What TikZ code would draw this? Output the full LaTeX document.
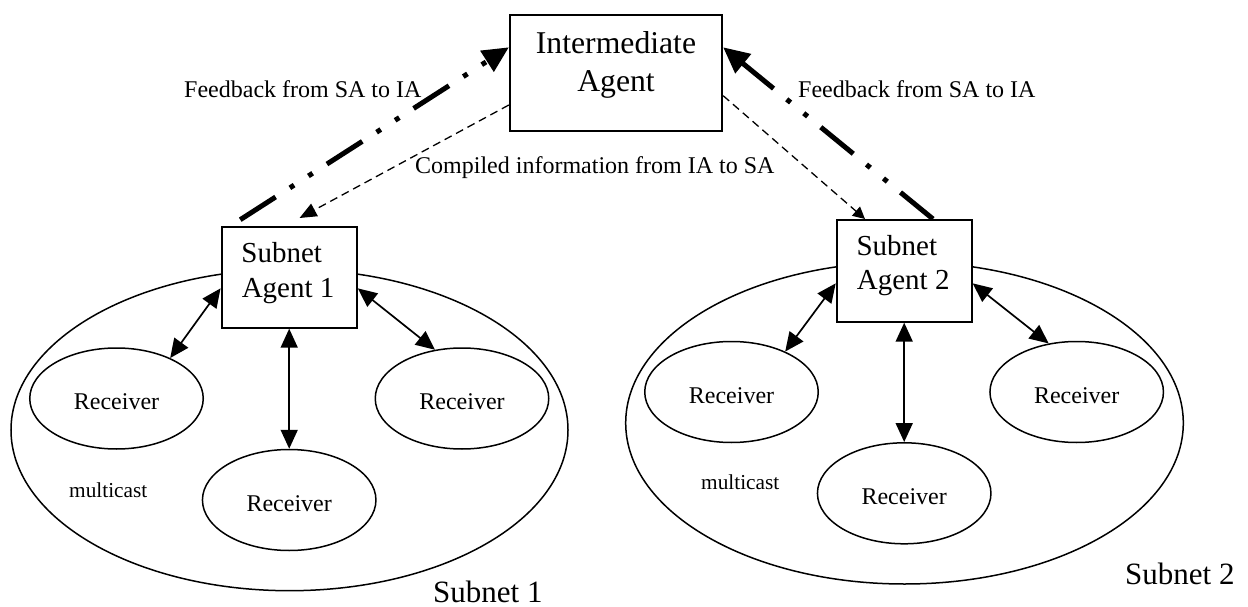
\documentclass[tikz,border=0pt]{standalone}
\usepackage{fontspec}
\setmainfont{Liberation Serif}
\usetikzlibrary{arrows.meta,calc,shapes.geometric}

\tikzset{
  agentbox/.style={draw, line width=2pt, fill=white, inner sep=0pt},
  receiver/.style={draw, ellipse, line width=1.5pt, minimum width=173.5pt,
    minimum height=101pt, inner sep=0pt, text height=22pt, text depth=0pt,
    font=\fontsize{24}{28}\selectfont},
  subnet/.style={draw, ellipse, line width=1.5pt, inner sep=0pt},
  boxtext/.style={anchor=base west, inner sep=0pt, font=\fontsize{29}{35}\selectfont},
  iatext/.style={anchor=base, inner sep=0pt, font=\fontsize{31.7}{38}\selectfont},
  note/.style={anchor=base west, inner sep=0pt, font=\fontsize{24}{28}\selectfont},
  mcast/.style={anchor=base west, inner sep=0pt, font=\fontsize{21.3}{25}\selectfont},
  netlabel/.style={anchor=base west, inner sep=0pt, font=\fontsize{31}{36}\selectfont},
  link/.style={line width=1.7pt,
    {Triangle[length=19pt,width=17pt]}-{Triangle[length=19pt,width=17pt]}},
  feedback/.style={line width=5pt,
    dash pattern=on 42pt off 17pt on 5pt off 17pt on 5pt off 17pt,
    -{Triangle[length=26pt,width=24pt]}},
  compiled/.style={line width=1.3pt, dash pattern=on 8pt off 5pt,
    -{Triangle[length=17pt,width=14pt]}},
}

\begin{document}
\begin{tikzpicture}[x=1pt,y=-1pt]
\useasboundingbox (0,0) rectangle (1248,607);

% subnet outlines
\node[subnet, minimum width=557pt, minimum height=321.4pt] (net1) at (289.5,430) {};
\node[subnet, minimum width=557.6pt, minimum height=322pt] (net2) at (904.5,423) {};

% agents
\node[agentbox, minimum width=212.3pt, minimum height=115.7pt] (ia) at (616,72.85) {};
\node[iatext] (ia1) at (616,53.3) {Intermediate};
\node[iatext] (ia2) at (616,91.7) {Agent};

\node[agentbox, minimum width=135.3pt, minimum height=100.7pt] (sa1) at (289.2,277.35) {};
\node[boxtext] (sa1a) at ($(sa1.north west)+(20.7,36)$) {Subnet};
\node[boxtext] (sa1b) at ($(sa1.north west)+(21,71)$) {Agent 1};

\node[agentbox, minimum width=135pt, minimum height=101.7pt] (sa2) at (904.2,270.85) {};
\node[boxtext] (sa2a) at ($(sa2.north west)+(20.7,36.5)$) {Subnet};
\node[boxtext] (sa2b) at ($(sa2.north west)+(21,70)$) {Agent 2};

% receivers
\node[receiver] (r11) at (116.5,398.5) {Receiver};
\node[receiver] (r12) at (289.2,500) {Receiver};
\node[receiver] (r13) at (462,398.5) {Receiver};
\node[receiver] (r21) at (731.5,392) {Receiver};
\node[receiver] (r22) at (904.2,493.3) {Receiver};
\node[receiver] (r23) at (1076.7,392) {Receiver};

% labels
\node[note] (fbl) at (184,97.3) {Feedback from SA to IA};
\node[note] (fbr) at (798,97.3) {Feedback from SA to IA};
\node[note] (cmp) at (415,174) {Compiled information from IA to SA};
\node[mcast] (mc1) at (69,497) {multicast};
\node[mcast] (mc2) at (701,489) {multicast};
\node[netlabel] (lab1) at (433,602.5) {Subnet 1};
\node[netlabel] (lab2) at (1125,584) {Subnet 2};

% feedback and compiled information
\draw[feedback] ($(sa1.north west)+(19.7,-6.3)$) -- ($(ia.north west)+(0,33.3)$);
\draw[feedback] ($(sa2.north west)+(97.3,0)$) -- ($(ia.north east)+(0,33.3)$);
\draw[compiled] ($(ia.north west)+(0,91)$) -- ($(sa1.north west)+(79,-8)$);
\draw[compiled, -{Triangle[length=12pt,width=12pt]}] ($(ia.north east)+(0,81.7)$) -- ($(sa2.north west)+(29.3,0)$);

% subnet links
\draw[link] ($(sa1.west)+(0,11)$) -- (r11.37);
\draw[link] ($(sa1.east)+(0,11)$) -- (r13.119);
\draw[link] (sa1.south) -- (r12.north);
\draw[link] ($(sa2.west)+(0,12.5)$) -- (r21.37);
\draw[link] ($(sa2.east)+(0,12.5)$) -- (r23.120);
\draw[link] (sa2.south) -- (r22.north);
\end{tikzpicture}
\end{document}
